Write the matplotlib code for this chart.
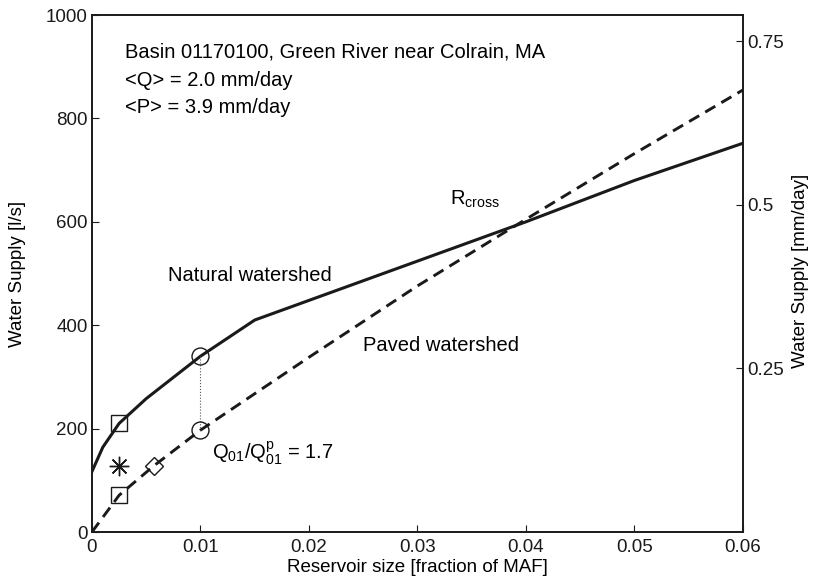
import numpy as np
import matplotlib.pyplot as plt

plt.rcParams['font.family'] = ['Liberation Sans', 'DejaVu Sans']
plt.rcParams['mathtext.fontset'] = 'custom'
plt.rcParams['mathtext.rm'] = 'Liberation Sans'
plt.rcParams['mathtext.it'] = 'Liberation Sans'

# reservoir size [fraction of MAF] vs water supply [l/s]
natural_x = [0.0, 0.001, 0.0025, 0.005, 0.01, 0.015, 0.02, 0.03, 0.04, 0.05, 0.06]
natural_y = [117, 164, 210, 258, 340, 410, 448, 524, 600, 680, 752]
paved_x = [0.0, 0.0025, 0.0057, 0.01, 0.02, 0.03, 0.04, 0.05, 0.06]
paved_y = [0, 71, 128, 197, 338, 476, 605, 732, 855]

# special points
square_x = [0.0025, 0.0025]
square_y = [210, 71]
star_x = [0.0025]
star_y = [128]
diamond_x = [0.0057]
diamond_y = [128]
circle_x = [0.01, 0.01]
circle_y = [340, 197]

ls_to_mmday = 0.00079  # 1000 l/s ~ 0.79 mm/day

fig = plt.figure(figsize=(8.16, 5.82), dpi=100)
ax = fig.add_axes([0.1127, 0.0859, 0.7978, 0.8883])

k = '#1a1a1a'
ax.plot(natural_x, natural_y, color=k, lw=2.2)
ax.plot(paved_x, paved_y, color=k, lw=2.1, ls=(0, (4, 2.4)))
ax.plot([circle_x[0], circle_x[1]], [circle_y[0], circle_y[1]], color='#555555', lw=0.8, ls=':')

ax.plot(square_x, square_y, ls='none', marker='s', ms=11.3, mfc='none', mec=k, mew=1.0)
ax.plot(star_x, star_y, ls='none', marker=(8, 2, 0), ms=14, mec=k, mew=1.0)
ax.plot(diamond_x, diamond_y, ls='none', marker='D', ms=8.7, mfc='none', mec=k, mew=1.0)
ax.plot(circle_x, circle_y, ls='none', marker='o', ms=12.2, mfc='none', mec=k, mew=1.0)

fs_tick = 13.5
fs = 14.5
ax.set_xlim(0, 0.06)
ax.set_ylim(0, 1000)
ax.set_xticks([0, 0.01, 0.02, 0.03, 0.04, 0.05, 0.06])
ax.set_xticklabels(['0', '0.01', '0.02', '0.03', '0.04', '0.05', '0.06'])
ax.set_yticks([0, 200, 400, 600, 800, 1000])
ax.tick_params(direction='in', labelsize=fs_tick, length=5, colors=k, pad=3)
ax.tick_params(axis='x', pad=5)
ax.set_xlabel('Reservoir size [fraction of MAF]', fontsize=fs_tick, labelpad=2)
ax.set_ylabel('Water Supply [l/s]', fontsize=fs_tick)
ax.yaxis.set_label_coords(-0.101, 0.5)

ax2 = ax.twinx()
ax2.set_ylim(0, 1000 * ls_to_mmday)
ax2.set_yticks([0.25, 0.5, 0.75])
ax2.set_yticklabels(['0.25', '0.5', '0.75'])
ax2.tick_params(direction='in', labelsize=fs_tick, length=5, colors=k, pad=3)
ax2.set_ylabel('Water Supply [mm/day]', fontsize=fs_tick, rotation=90, va='center')
ax2.yaxis.set_label_coords(1.089, 0.505)

for a in (ax, ax2):
    for s in a.spines.values():
        s.set_linewidth(1.2)
        s.set_color(k)

ax.text(0.00304, 928, 'Basin 01170100, Green River near Colrain, MA', fontsize=fs, va='center')
ax.text(0.00304, 874, '<Q> = 2.0 mm/day', fontsize=fs, va='center')
ax.text(0.00304, 822, '<P> = 3.9 mm/day', fontsize=fs, va='center')
ax.text(0.0070, 497, 'Natural watershed', fontsize=fs, va='center')
ax.text(0.0394, 360, 'Paved watershed', fontsize=fs, va='center', ha='right')
ax.text(0.0330, 634, r'R$_{\rm cross}$', fontsize=fs, va='baseline')
ax.text(0.01106, 141, r'Q$_{01}$/Q$_{01}^{\rm p}$ = 1.7', fontsize=fs, va='baseline')

fig.savefig('out.png', dpi=100)
